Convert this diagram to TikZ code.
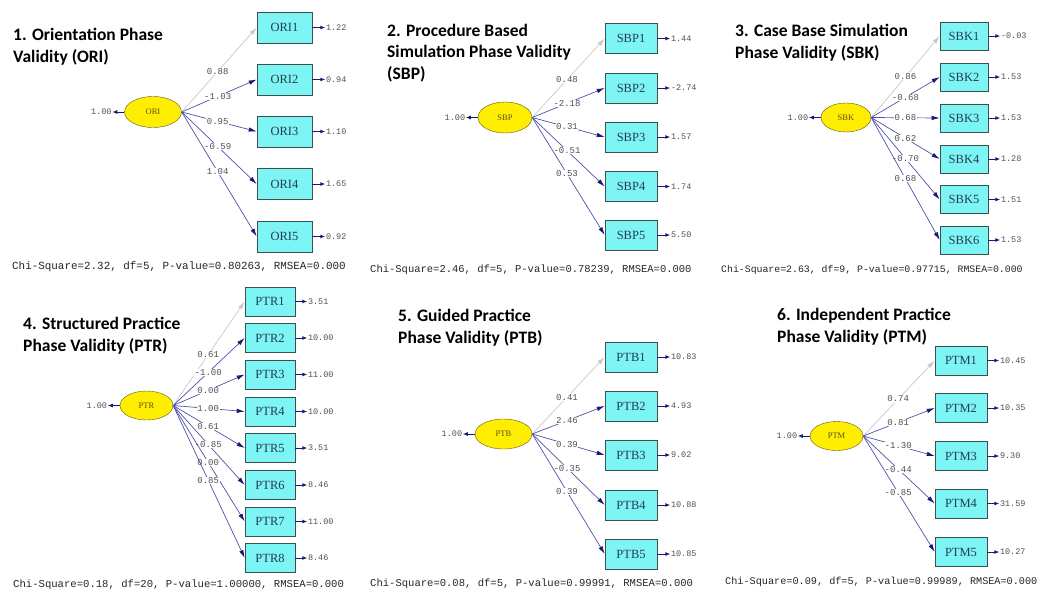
\documentclass[tikz,border=0pt]{standalone}
\usepackage{fontspec}
\setmainfont{Liberation Serif}
\setmonofont{Liberation Mono}
\newfontfamily\headfont{Carlito}
\usetikzlibrary{shapes.geometric, arrows.meta, positioning}

\definecolor{boxcyan}{RGB}{125,245,245}
\definecolor{boxedge}{RGB}{60,80,80}
\definecolor{boxtext}{RGB}{35,60,80}
\definecolor{latentyellow}{RGB}{255,238,0}
\definecolor{latentedge}{RGB}{90,90,20}
\definecolor{latenttext}{RGB}{90,80,30}
\definecolor{pathblue}{RGB}{80,80,170}
\definecolor{tipnavy}{RGB}{25,25,120}
\definecolor{fixedgray}{RGB}{200,200,200}
\definecolor{numgray}{RGB}{80,80,80}

\tikzset{
  heading/.style={anchor=base west, align=left, inner sep=0pt, font=\headfont\bfseries\fontsize{17.5}{21.5}\selectfont},
  latent/.style={ellipse, draw=latentedge, fill=latentyellow, inner sep=0pt, font=\fontsize{8.5}{9}\selectfont, text=latenttext},
  observed/.style={rectangle, draw=boxedge, line width=0.6pt, fill=boxcyan, inner sep=0pt, font=\fontsize{12.5}{13}\selectfont, text=boxtext},
  loading/.style={draw=pathblue, line width=0.7pt, -{Latex[length=8pt,width=4.5pt,color=tipnavy]}},
  fixedpath/.style={draw=fixedgray, line width=0.7pt, -{Latex[length=8pt,width=4.5pt]}},
  coef/.style={fill=white, inner sep=0.5pt, font=\ttfamily\fontsize{9}{9}\selectfont, text=numgray},
  errval/.style={anchor=west, inner sep=0.5pt, font=\ttfamily\fontsize{8.5}{9}\selectfont, text=numgray},
  errarrow/.style={draw=tipnavy, line width=0.9pt, -{Latex[length=5pt,width=4pt]}},
  chisq/.style={anchor=west, inner sep=0pt, text=black!85}
}

\begin{document}
\begin{tikzpicture}[x=1pt,y=-1pt]
\useasboundingbox (0,0) rectangle (1040,592);

\node[heading] (title1) at (13,62) {1. Orientation Phase\\Validity (ORI)};
\node[latent, minimum width=57pt, minimum height=31pt] (ori) at (153,112) {ORI};
\node[errval, anchor=east] (orivar) at ([xshift=-12pt]ori.west) {1.00};
\draw[errarrow] (ori.west) -- (orivar);
\foreach \i/\y/\c/\e/\s in {1/27.5/0.88/1.22/fixedpath, 2/79.5/-1.03/0.94/loading, 3/131.5/0.95/1.10/loading, 4/184/-0.59/1.65/loading, 5/236.5/1.04/0.92/loading}{
  \node[observed, minimum width=55pt, minimum height=31pt] (ori\i) at (284.5,\y) {ORI\i};
  \node[errval] (ori\i err) at ([xshift=13pt]ori\i.east) {\e};
  \draw[errarrow] (ori\i.east) -- (ori\i err);
  \draw[\s] (ori.east) -- node[coef, pos=0.48] {\c} (ori\i.west);
}
\node[chisq, font=\ttfamily\fontsize{10.9}{12}\selectfont] (chi1) at (12,267) {Chi-Square=2.32, df=5, P-value=0.80263, RMSEA=0.000};

\node[heading] (title2) at (387,79) {2. Procedure Based\\Simulation Phase Validity\\(SBP)};
\node[latent, minimum width=54pt, minimum height=31pt] (sbp) at (505,117.5) {SBP};
\node[errval, anchor=east] (sbpvar) at ([xshift=-12pt]sbp.west) {1.00};
\draw[errarrow] (sbp.west) -- (sbpvar);
\foreach \i/\y/\c/\e/\s in {1/38.5/0.48/1.44/fixedpath, 2/88/-2.18/-2.74/loading, 3/137/0.31/1.57/loading, 4/186.5/-0.51/1.74/loading, 5/235/0.53/5.50/loading}{
  \node[observed, minimum width=52pt, minimum height=30pt] (sbp\i) at (631,\y) {SBP\i};
  \node[errval] (sbp\i err) at ([xshift=13pt]sbp\i.east) {\e};
  \draw[errarrow] (sbp\i.east) -- (sbp\i err);
  \draw[\s] (sbp.east) -- node[coef, pos=0.48] {\c} (sbp\i.west);
}
\node[chisq, font=\ttfamily\fontsize{10.5}{12}\selectfont] (chi2) at (370,270) {Chi-Square=2.46, df=5, P-value=0.78239, RMSEA=0.000};

\node[heading] (title3) at (735,58) {3. Case Base Simulation\\Phase Validity (SBK)};
\node[latent, minimum width=50pt, minimum height=29pt] (sbk) at (846,117.5) {SBK};
\node[errval, anchor=east] (sbkvar) at ([xshift=-12pt]sbk.west) {1.00};
\draw[errarrow] (sbk.west) -- (sbkvar);
\foreach \i/\y/\c/\e/\s in {1/36/0.86/-0.03/fixedpath, 2/77/-0.68/1.53/loading, 3/118/0.68/1.53/loading, 4/159/0.62/1.28/loading, 5/199.5/-0.70/1.51/loading, 6/240/0.68/1.53/loading}{
  \node[observed, minimum width=48pt, minimum height=28pt] (sbk\i) at (964,\y) {SBK\i};
  \node[errval] (sbk\i err) at ([xshift=12pt]sbk\i.east) {\e};
  \draw[errarrow] (sbk\i.east) -- (sbk\i err);
  \draw[\s] (sbk.east) -- node[coef, pos=0.5] {\c} (sbk\i.west);
}
\node[chisq, font=\ttfamily\fontsize{9.85}{11}\selectfont] (chi3) at (721,270) {Chi-Square=2.63, df=9, P-value=0.97715, RMSEA=0.000};

\node[heading] (title4) at (23,351) {4. Structured Practice\\Phase Validity (PTR)};
\node[latent, minimum width=53pt, minimum height=29pt] (ptr) at (146.5,405.5) {PTR};
\node[errval, anchor=east] (ptrvar) at ([xshift=-12pt]ptr.west) {1.00};
\draw[errarrow] (ptr.west) -- (ptrvar);
\foreach \i/\y/\c/\e/\s in {1/301.5/0.61/3.51/fixedpath, 2/338/-1.00/10.00/loading, 3/374.5/0.00/11.00/loading, 4/411.5/1.00/10.00/loading, 5/448/0.61/3.51/loading, 6/485/-0.85/8.46/loading, 7/521.5/0.00/11.00/loading, 8/558/0.85/8.46/loading}{
  \node[observed, minimum width=50pt, minimum height=29pt] (ptr\i) at (270,\y) {PTR\i};
  \node[errval] (ptr\i err) at ([xshift=12pt]ptr\i.east) {\e};
  \draw[errarrow] (ptr\i.east) -- (ptr\i err);
  \draw[\s] (ptr.east) -- node[coef, pos=0.49] {\c} (ptr\i.west);
}
\node[chisq, font=\ttfamily\fontsize{10.6}{12}\selectfont] (chi4) at (13,585) {Chi-Square=0.18, df=20, P-value=1.00000, RMSEA=0.000};

\node[heading] (title5) at (398,343) {5. Guided Practice\\Phase Validity (PTB)};
\node[latent, minimum width=57pt, minimum height=30pt] (ptb) at (503.5,434) {PTB};
\node[errval, anchor=east] (ptbvar) at ([xshift=-12pt]ptb.west) {1.00};
\draw[errarrow] (ptb.west) -- (ptbvar);
\foreach \i/\y/\c/\e/\s in {1/357/0.41/10.83/fixedpath, 2/406/2.46/4.93/loading, 3/455/0.39/9.02/loading, 4/505/-0.35/10.88/loading, 5/554/0.39/10.85/loading}{
  \node[observed, minimum width=52pt, minimum height=30pt] (ptb\i) at (631,\y) {PTB\i};
  \node[errval] (ptb\i err) at ([xshift=13pt]ptb\i.east) {\e};
  \draw[errarrow] (ptb\i.east) -- (ptb\i err);
  \draw[\s] (ptb.east) -- node[coef, pos=0.48] {\c} (ptb\i.west);
}
\node[chisq, font=\ttfamily\fontsize{10.55}{12}\selectfont] (chi5) at (370,584) {Chi-Square=0.08, df=5, P-value=0.99991, RMSEA=0.000};

\node[heading] (title6) at (777,342) {6. Independent Practice\\Phase Validity (PTM)};
\node[latent, minimum width=53pt, minimum height=29pt] (ptm) at (836.5,436) {PTM};
\node[errval, anchor=east] (ptmvar) at ([xshift=-12pt]ptm.west) {1.00};
\draw[errarrow] (ptm.west) -- (ptmvar);
\foreach \i/\y/\c/\e/\s in {1/360.5/0.74/10.45/fixedpath, 2/408/0.81/10.35/loading, 3/456/-1.30/9.30/loading, 4/503.5/-0.44/31.59/loading, 5/552/-0.85/10.27/loading}{
  \node[observed, minimum width=52pt, minimum height=29pt] (ptm\i) at (961,\y) {PTM\i};
  \node[errval] (ptm\i err) at ([xshift=12pt]ptm\i.east) {\e};
  \draw[errarrow] (ptm\i.east) -- (ptm\i err);
  \draw[\s] (ptm.east) -- node[coef, pos=0.49] {\c} (ptm\i.west);
}
\node[chisq, font=\ttfamily\fontsize{10.2}{12}\selectfont] (chi6) at (725,582) {Chi-Square=0.09, df=5, P-value=0.99989, RMSEA=0.000};
\end{tikzpicture}
\end{document}
